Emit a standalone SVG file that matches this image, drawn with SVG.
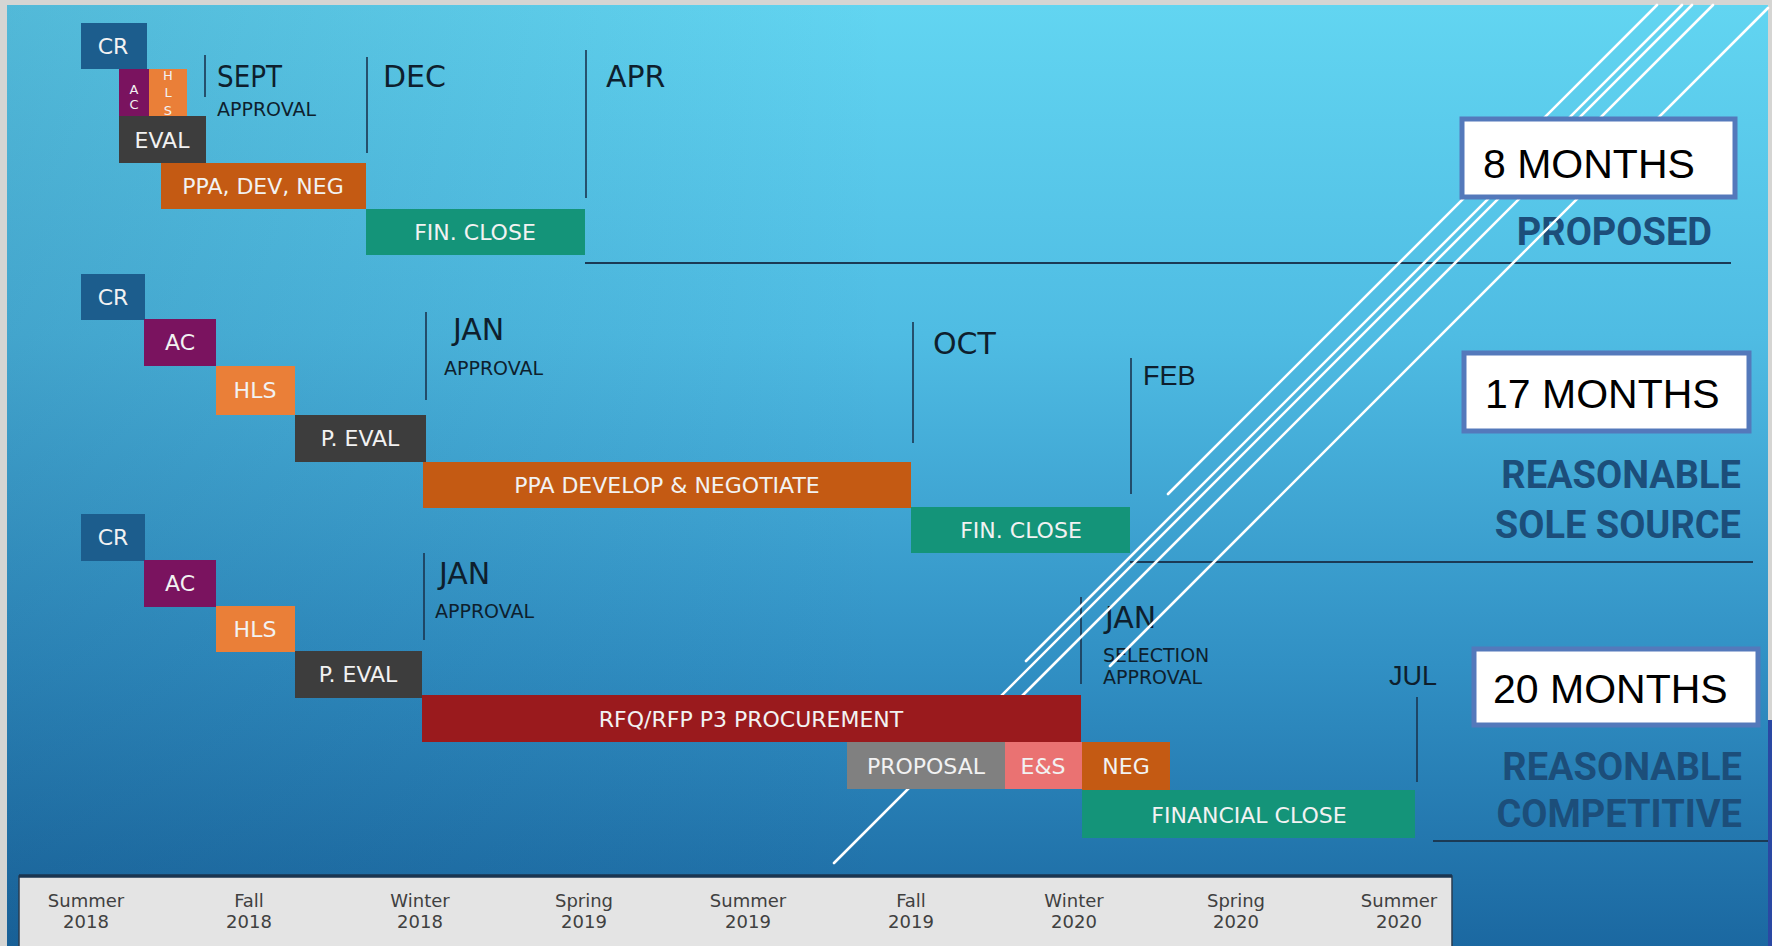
<svg xmlns="http://www.w3.org/2000/svg" width="1772" height="946" viewBox="0 0 1772 946">
<defs>
<linearGradient id="bg" x1="0" y1="0" x2="0" y2="1">
<stop offset="0" stop-color="#62d5f1"/>
<stop offset="0.35" stop-color="#4fbce3"/>
<stop offset="0.7" stop-color="#3190c4"/>
<stop offset="1" stop-color="#1b68a1"/>
</linearGradient>
<linearGradient id="shade" x1="0" y1="0" x2="1" y2="0">
<stop offset="0" stop-color="#0b3a66" stop-opacity="0.18"/>
<stop offset="0.5" stop-color="#0b3a66" stop-opacity="0"/>
</linearGradient>
<style>
.bar text{font-family:"DejaVu Sans",sans-serif;font-size:22px;fill:#f2f2f2;text-anchor:middle}
.v text{font-family:"DejaVu Sans",sans-serif;font-size:13px;fill:#f2f2f2;text-anchor:middle}
.mon{font-family:"DejaVu Sans",sans-serif;font-size:30px;fill:#0e1f2e}
.monc{font-family:"Liberation Sans",Arial,sans-serif;font-size:27px;fill:#0e1f2e}
.sub{font-family:"DejaVu Sans",sans-serif;font-size:19px;fill:#0e1f2e}
.mk{stroke:#1b3550;stroke-width:1.6}
.sep{stroke:#1b3a55;stroke-width:1.8}
.box rect{fill:#ffffff;stroke:#5479bb;stroke-width:5}
.box text{font-family:"Liberation Sans",Arial,sans-serif;font-size:41px;fill:#000}
.lbl{font-family:Roboto,"Liberation Sans",sans-serif;font-weight:bold;font-size:38px;fill:#1c4e7a;text-anchor:end}
.diag line{stroke:#ffffff;stroke-width:2.6;stroke-linecap:round}
.tl text{font-family:"DejaVu Sans",sans-serif;font-size:18px;fill:#404040;text-anchor:middle}
.cr{fill:#1c5d8d}.ac{fill:#7a135f}.hls{fill:#ea7f38}.ev{fill:#3d3d3d}.ppa{fill:#c45a13}.fc{fill:#149479}.rfq{fill:#9a1a1d}.pr{fill:#808080}.es{fill:#ea7272}
</style>
</defs>
<rect x="0" y="0" width="1772" height="946" fill="#d5d5d3"/>
<rect x="1768" y="720" width="4" height="226" fill="#2a48a3"/>
<rect x="7" y="5" width="1761" height="941" fill="url(#bg)"/>
<rect x="7" y="5" width="1761" height="941" fill="url(#shade)"/>

<g id="separators">
<line class="sep" x1="585" y1="263" x2="1731" y2="263"/>
<line class="sep" x1="1130" y1="562" x2="1753" y2="562"/>
<line class="sep" x1="1433" y1="841" x2="1768" y2="841"/>
</g>

<g id="markers">
<line class="mk" x1="205" y1="55" x2="205" y2="97"/>
<line class="mk" x1="367" y1="57" x2="367" y2="153"/>
<line class="mk" x1="586" y1="50" x2="586" y2="198"/>
<line class="mk" x1="426" y1="312" x2="426" y2="400"/>
<line class="mk" x1="913" y1="322" x2="913" y2="443"/>
<line class="mk" x1="1131" y1="358" x2="1131" y2="494"/>
<line class="mk" x1="424" y1="553" x2="424" y2="640"/>
<line class="mk" x1="1081" y1="597" x2="1081" y2="684"/>
<line class="mk" x1="1417" y1="697" x2="1417" y2="782"/>
</g>

<g id="month-labels">
<text class="mon" x="217" y="87" textLength="65" lengthAdjust="spacingAndGlyphs">SEPT</text>
<text class="sub" x="217" y="116">APPROVAL</text>
<text class="mon" x="383" y="87">DEC</text>
<text class="mon" x="606" y="87">APR</text>
<text class="mon" x="453" y="340">JAN</text>
<text class="sub" x="444" y="375">APPROVAL</text>
<text class="mon" x="933" y="354">OCT</text>
<text class="monc" x="1143" y="385">FEB</text>
<text class="mon" x="439" y="584">JAN</text>
<text class="sub" x="435" y="618">APPROVAL</text>
<text class="mon" x="1105" y="628">JAN</text>
<text class="sub" x="1103" y="662" font-size="18">SELECTION</text>
<text class="sub" x="1103" y="684" font-size="18">APPROVAL</text>
<text class="monc" x="1389" y="685">JUL</text>
</g>

<g id="scenario-labels">
<text class="lbl" x="1712" y="245">PROPOSED</text>
<text class="lbl" x="1741" y="488">REASONABLE</text>
<text class="lbl" x="1741" y="538">SOLE SOURCE</text>
<text class="lbl" x="1742" y="780">REASONABLE</text>
<text class="lbl" x="1742" y="827">COMPETITIVE</text>
</g>

<g id="decor-lines" class="diag">
<line x1="1657" y1="5" x2="1168" y2="494"/>
<line x1="1682" y1="5" x2="1026" y2="661" stroke-width="4.2"/>
<line x1="1692" y1="5" x2="834" y2="863"/>
<line x1="1713" y1="5" x2="1018" y2="700"/>
<line x1="1768" y1="8" x2="1110" y2="666" stroke-width="3"/>
</g>

<g id="proposed">
<g id="p-cr" class="bar"><rect class="cr" x="81" y="23" width="66" height="46"/><text x="113" y="54">CR</text></g>
<g id="p-ac" class="v"><rect class="ac" x="119" y="69" width="30" height="47"/><text x="134" y="94">A</text><text x="134" y="109">C</text></g>
<g id="p-hls" class="v"><rect class="hls" x="149" y="69" width="38" height="47"/><text x="168" y="80">H</text><text x="168" y="97">L</text><text x="168" y="115">S</text></g>
<g id="p-eval" class="bar"><rect class="ev" x="119" y="116" width="87" height="47"/><text x="162" y="148">EVAL</text></g>
<g id="p-ppa" class="bar"><rect class="ppa" x="161" y="163" width="205" height="46"/><text x="263" y="194">PPA, DEV, NEG</text></g>
<g id="p-fin" class="bar"><rect class="fc" x="366" y="209" width="219" height="46"/><text x="475" y="240">FIN. CLOSE</text></g>
</g>

<g id="sole-source">
<g id="s-cr" class="bar"><rect class="cr" x="81" y="274" width="64" height="46"/><text x="113" y="305">CR</text></g>
<g id="s-ac" class="bar"><rect class="ac" x="144" y="319" width="72" height="47"/><text x="180" y="350">AC</text></g>
<g id="s-hls" class="bar"><rect class="hls" x="216" y="366" width="79" height="49"/><text x="255" y="398">HLS</text></g>
<g id="s-peval" class="bar"><rect class="ev" x="295" y="415" width="131" height="47"/><text x="360" y="446">P. EVAL</text></g>
<g id="s-ppa" class="bar"><rect class="ppa" x="423" y="462" width="488" height="46"/><text x="667" y="493">PPA DEVELOP &amp; NEGOTIATE</text></g>
<g id="s-fin" class="bar"><rect class="fc" x="911" y="507" width="219" height="46"/><text x="1021" y="538">FIN. CLOSE</text></g>
</g>

<g id="competitive">
<g id="c-cr" class="bar"><rect class="cr" x="81" y="514" width="64" height="47"/><text x="113" y="545">CR</text></g>
<g id="c-ac" class="bar"><rect class="ac" x="144" y="560" width="72" height="47"/><text x="180" y="591">AC</text></g>
<g id="c-hls" class="bar"><rect class="hls" x="216" y="606" width="79" height="46"/><text x="255" y="637">HLS</text></g>
<g id="c-peval" class="bar"><rect class="ev" x="295" y="651" width="127" height="47"/><text x="358" y="682">P. EVAL</text></g>
<g id="c-rfq" class="bar"><rect class="rfq" x="422" y="695" width="659" height="47"/><text x="751" y="727">RFQ/RFP P3 PROCUREMENT</text></g>
<g id="c-prop" class="bar"><rect class="pr" x="847" y="742" width="158" height="47"/><text x="926" y="774">PROPOSAL</text></g>
<g id="c-es" class="bar"><rect class="es" x="1005" y="742" width="77" height="47"/><text x="1043" y="774">E&amp;S</text></g>
<g id="c-neg" class="bar"><rect class="ppa" x="1082" y="742" width="88" height="48"/><text x="1126" y="774">NEG</text></g>
<g id="c-fin" class="bar"><rect class="fc" x="1082" y="790" width="333" height="48"/><text x="1249" y="823">FINANCIAL CLOSE</text></g>
</g>

<g id="durations">
<g id="d8" class="box"><rect x="1462" y="119" width="273" height="78"/><text x="1483" y="178">8 MONTHS</text></g>
<g id="d17" class="box"><rect x="1464" y="353" width="285" height="78"/><text x="1485" y="408">17 MONTHS</text></g>
<g id="d20" class="box"><rect x="1474" y="649" width="284" height="76"/><text x="1493" y="703">20 MONTHS</text></g>
</g>

<g id="timeline" class="tl">
<rect x="19" y="876" width="1433" height="72" fill="#e4e4e4" stroke="#2a3d50" stroke-width="1.5"/>
<line x1="19" y1="876" x2="1452" y2="876" stroke="#1a3550" stroke-width="3.5"/>
<text x="86" y="907">Summer</text><text x="86" y="928">2018</text>
<text x="249" y="907">Fall</text><text x="249" y="928">2018</text>
<text x="420" y="907">Winter</text><text x="420" y="928">2018</text>
<text x="584" y="907">Spring</text><text x="584" y="928">2019</text>
<text x="748" y="907">Summer</text><text x="748" y="928">2019</text>
<text x="911" y="907">Fall</text><text x="911" y="928">2019</text>
<text x="1074" y="907">Winter</text><text x="1074" y="928">2020</text>
<text x="1236" y="907">Spring</text><text x="1236" y="928">2020</text>
<text x="1399" y="907">Summer</text><text x="1399" y="928">2020</text>
</g>
</svg>
